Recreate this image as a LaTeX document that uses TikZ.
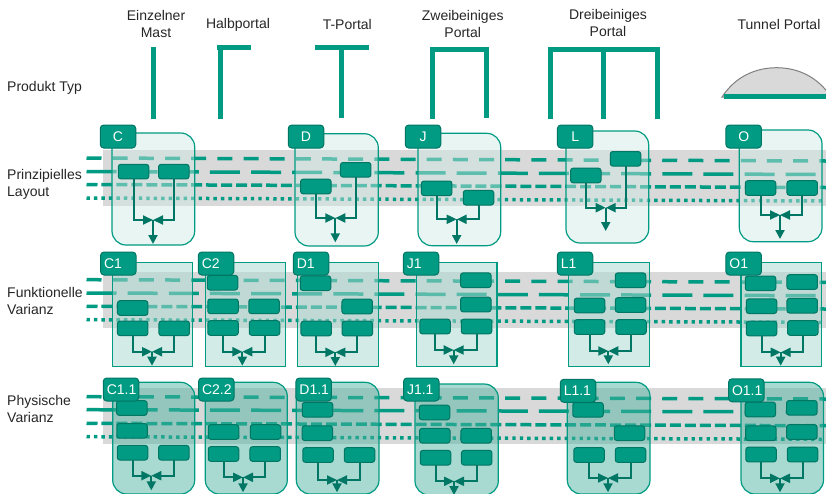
\documentclass[tikz,border=0pt]{standalone}
\usepackage{fontspec}
\setmainfont{Liberation Sans}
\usetikzlibrary{arrows.meta}
\definecolor{teal1}{RGB}{0,155,130}
\definecolor{teal2}{RGB}{0,118,100}
\definecolor{bandgray}{RGB}{217,217,217}
\definecolor{cardA}{RGB}{207,233,229}
\definecolor{cardB}{RGB}{170,217,208}
\definecolor{cardC}{RGB}{73,178,159}
\tikzset{
  lab/.style={font=\fontsize{14}{17}\selectfont,text=black!85,inner sep=0pt,align=center},
  side/.style={lab,align=left,anchor=west},
  icon/.style={fill=teal1,draw=none},
  band/.style={fill=bandgray,draw=none},
  ln/.style={draw=teal1,line width=3.5pt},
  lnA/.style={ln,dash pattern=on 15pt off 11.17pt},
  lnB/.style={ln,dash pattern=on 30pt off 11.13pt},
  lnC/.style={ln,dash pattern=on 11pt off 3.96pt},
  lnD/.style={ln,dash pattern=on 3.4pt off 4.07pt},
  cardR1/.style={fill=cardA,fill opacity=.45,draw=teal1,draw opacity=1,line width=1.2pt,rounded corners=14pt},
  cardS2/.style={fill=cardB,fill opacity=.53,draw=teal1,draw opacity=1,line width=1.2pt},
  cardR3/.style={fill=cardC,fill opacity=.48,draw=teal1,draw opacity=1,line width=1.2pt,rounded corners=14pt},
  boxn/.style={fill=teal1,draw=teal2,line width=1pt,rounded corners=2.5pt,minimum width=30.5pt,minimum height=14.6pt,inner sep=0pt,outer sep=0pt},
  tabn/.style={fill=teal1,draw=teal2,line width=1pt,rounded corners=3.5pt,minimum width=35.5pt,minimum height=23pt,inner sep=0pt,outer sep=0pt,text=white,font=\fontsize{14}{16}\selectfont},
  tabl/.style={tabn,text width=28.5pt,inner xsep=3.5pt,align=left},
  conn/.style={draw=teal2,line width=2pt},
  connh/.style={conn,-{Triangle[length=10pt,width=9pt]}},
  connv/.style={conn,-{Triangle[length=9pt,width=9pt]}},
}
\newcommand{\bx}[3]{\node[boxn] (#1) at (#2,#3) {};}
\newcommand{\flow}[6]{%
  \coordinate (#1-join) at (#4,#5);
  \coordinate (#1-end) at (#4,#6);
  \draw[connh] (#2.south) |- (#1-join);
  \draw[connh] (#3.south) |- (#1-join);
  \draw[connv] (#1-join) -- (#1-end);}
\newcommand{\lines}[9]{%
  \coordinate (#1a1) at (86.5,#2); \coordinate (#1b1) at (826,#3);
  \coordinate (#1a2) at (86.5,#4); \coordinate (#1b2) at (826,#5);
  \coordinate (#1a3) at (86.5,#6); \coordinate (#1b3) at (826,#7);
  \coordinate (#1a4) at (86.5,#8); \coordinate (#1b4) at (826,#9);
  \draw[lnA] (#1a1) -- (#1b1);
  \draw[lnB] (#1a2) -- (#1b2);
  \draw[lnC] (#1a3) -- (#1b3);
  \draw[lnD] (#1a4) -- (#1b4);}
\begin{document}
\begin{tikzpicture}[x=1pt,y=-1pt]
\useasboundingbox (0,0) rectangle (826,493);
\clip (0,0) rectangle (826,493);
% labels
\node[lab] (t1) at (156,24) {Einzelner\\Mast};
\node[lab] (t2) at (238,25) {Halbportal};
\node[lab] (t3) at (347.3,24.5) {T-Portal};
\node[lab] (t4) at (462.7,24) {Zweibeiniges\\Portal};
\node[lab] (t5) at (608,23) {Dreibeiniges\\Portal};
\node[lab] (t6) at (779,24) {Tunnel Portal};
\node[side] (s1) at (7,88) {Produkt Typ};
\node[side] (s2) at (7,184.5) {Prinzipielles\\Layout};
\node[side] (s3) at (7,301) {Funktionelle\\Varianz};
\node[side] (s4) at (7,408.5) {Physische\\Varianz};
% product icons
\fill[icon] (151,47) rectangle (156,118.7);
\fill[icon] (217,45) rectangle (251,50);
\fill[icon] (218,45) rectangle (223,118.7);
\fill[icon] (315,45) rectangle (369,50);
\fill[icon] (339.3,45) rectangle (344.3,118);
\fill[icon] (430,47) rectangle (488.7,52);
\fill[icon] (430,47) rectangle (435,118.7);
\fill[icon] (483.7,47) rectangle (488.7,118.3);
\fill[icon] (548,47) rectangle (660,52);
\fill[icon] (548,47) rectangle (553,119);
\fill[icon] (601,47) rectangle (606,119);
\fill[icon] (655,47) rectangle (660,119);
\draw[fill=bandgray,draw=black!50,line width=1pt] (722,97) .. controls (735,77) and (755,67.7) .. (776.7,67.7) .. controls (798,67.7) and (818,77) .. (831,97) -- cycle;
\fill[icon] (724,94) rectangle (826,99);
% bands
\fill[band] (103,150) rectangle (826,206);
\fill[band] (103,272) rectangle (826,328);
\fill[band] (103,388) rectangle (826,444);
% dashed lines
\lines{ra}{158}{161}{171.5}{174.5}{184.5}{187.5}{198}{201}
\lines{rb}{279.7}{282.3}{293}{295.7}{306.3}{309}{319.7}{322.3}
\lines{rc}{396.7}{399}{409.7}{412}{423.3}{425.7}{436.7}{439.3}
% cards row 1
\draw[cardR1] (112,133) rectangle (194.7,245);
\draw[cardR1] (295,133.7) rectangle (378.3,246);
\draw[cardR1] (418,133.3) rectangle (500.7,245.7);
\draw[cardR1] (566,131) rectangle (648.7,243);
\draw[cardR1] (739.3,130) rectangle (822,241.7);
% cards row 2
\draw[cardS2] (112.3,262.7) rectangle (192.7,366.7);
\draw[cardS2] (205.3,262.7) rectangle (285.7,366.7);
\draw[cardS2] (297.7,262.7) rectangle (378.3,366.7);
\draw[cardS2] (416.3,262.7) rectangle (497,366.7);
\draw[cardS2] (568.3,262.7) rectangle (649.3,366.7);
\draw[cardS2] (741,262.7) rectangle (821.7,366.7);
% cards row 3
\draw[cardR3] (112.7,382.3) rectangle (194.7,494);
\draw[cardR3] (205.3,382.3) rectangle (287.3,494);
\draw[cardR3] (296.3,382.3) rectangle (379,494);
\draw[cardR3] (415,384) rectangle (498.3,495);
\draw[cardR3] (567.3,382.3) rectangle (650,494);
\draw[cardR3] (741,382.3) rectangle (823.5,494);
% row 1 boxes
\bx{Ca}{133.5}{171.6} \bx{Cb}{173.8}{171.6}
\flow{C}{Ca}{Cb}{153}{220}{244}
\bx{Da}{315.8}{186.5} \bx{Db}{355.7}{169.8}
\flow{D}{Da}{Db}{335.3}{218}{242.3}
\bx{Ja}{436.7}{188.3} \bx{Jb}{478.5}{197.7}
\flow{J}{Ja}{Jb}{456.7}{219.3}{244}
\bx{La}{585.8}{175.5} \bx{Lb}{625.5}{158.8}
\flow{L}{La}{Lb}{605.7}{207.7}{231}
\bx{Oa}{760.5}{188} \bx{Ob}{802.2}{188}
\flow{O}{Oa}{Ob}{780}{215}{239}
% row 2 boxes
\bx{Cea}{132.7}{308} \bx{Ceb}{132.7}{328.3} \bx{Cec}{174.2}{328.3}
\flow{Ce}{Ceb}{Cec}{152}{351.7}{365.7}
\bx{Cza}{222.5}{282.7} \bx{Czb}{223}{306.3} \bx{Czc}{264}{306.3} \bx{Czd}{223}{328} \bx{Cze}{264.5}{328}
\flow{Cz}{Czd}{Cze}{242.3}{351.7}{365.7}
\bx{Dea}{315.5}{283.2} \bx{Deb}{357.2}{306.5} \bx{Dec}{316.2}{328.5} \bx{Ded}{357.3}{328.5}
\flow{De}{Dec}{Ded}{335.3}{352.3}{366}
\bx{Jea}{475.8}{280.2} \bx{Jeb}{475.8}{304.5} \bx{Jec}{435}{326.5} \bx{Jed}{476.5}{326.5}
\flow{Je}{Jec}{Jed}{453.7}{350}{364.3}
\bx{Lea}{630.5}{280.2} \bx{Leb}{589.5}{305.5} \bx{Lec}{630.5}{305} \bx{Led}{589.5}{327} \bx{Lee}{631}{327}
\flow{Le}{Led}{Lee}{608.3}{351}{364.3}
\bx{Oea}{760.5}{283.3} \bx{Oeb}{802.2}{282} \bx{Oec}{761.5}{306.2} \bx{Oed}{802.2}{305.7} \bx{Oee}{761.5}{328.5} \bx{Oef}{802.8}{328}
\flow{Oe}{Oee}{Oef}{780.7}{352.3}{365.7}
% row 3 boxes
\bx{Cxa}{131.8}{408} \bx{Cxb}{132}{430.8} \bx{Cxc}{132.5}{452.7} \bx{Cxd}{173.8}{452.7}
\flow{Cx}{Cxc}{Cxd}{151.3}{475.7}{490.3}
\bx{Cya}{223.5}{432} \bx{Cyb}{265.5}{432} \bx{Cyc}{223.5}{454} \bx{Cyd}{265.2}{454}
\flow{Cy}{Cyc}{Cyd}{243}{477.3}{492.3}
\bx{Dxa}{317.5}{409.7} \bx{Dxb}{317.3}{433.2} \bx{Dxc}{318}{455} \bx{Dxd}{359.5}{455}
\flow{Dx}{Dxc}{Dxd}{337}{480}{492.3}
\bx{Jxa}{434.5}{412.5} \bx{Jxb}{434.8}{435.7} \bx{Jxc}{476.2}{435.7} \bx{Jxd}{435.5}{457.7} \bx{Jxe}{476.7}{457.7}
\flow{Jx}{Jxd}{Jxe}{454}{481.3}{495}
\bx{Lxa}{588}{409.8} \bx{Lxb}{629.5}{433.2} \bx{Lxc}{589}{455} \bx{Lxd}{630.5}{455}
\flow{Lx}{Lxc}{Lxd}{608}{478}{492.3}
\bx{Oxa}{760.3}{409.5} \bx{Oxb}{801.8}{407.8} \bx{Oxc}{760.8}{433.2} \bx{Oxd}{801.8}{432} \bx{Oxe}{761}{454.5} \bx{Oxf}{802.5}{454.5}
\flow{Ox}{Oxe}{Oxf}{780}{478.3}{492.3}
% tabs row 1
\node[tabn] (tC) at (118,136.5) {C};
\node[tabn] (tD) at (306,136.5) {D};
\node[tabn] (tJ) at (423,136.5) {J};
\node[tabn] (tL) at (575.2,136.5) {L};
\node[tabn] (tO) at (743.7,136.5) {O};
% tabs row 2
\node[tabl] (tC1) at (118.3,263.5) {C1};
\node[tabl] (tC2) at (216,263.5) {C2};
\node[tabl] (tD1) at (311,263.5) {D1};
\node[tabl] (tJ1) at (421,263.5) {J1};
\node[tabl] (tL1) at (575,263.5) {L1};
\node[tabl] (tO1) at (743.7,263.5) {O1};
% tabs row 3
\node[tabl] (tC11) at (121,389.5) {C1.1};
\node[tabl] (tC22) at (216.3,389.5) {C2.2};
\node[tabl] (tD11) at (313.7,389.5) {D1.1};
\node[tabl] (tJ11) at (421.3,389.5) {J1.1};
\node[tabl] (tL11) at (578,390.8) {L1.1};
\node[tabl] (tO11) at (746.3,390.3) {O1.1};
\end{tikzpicture}
\end{document}
